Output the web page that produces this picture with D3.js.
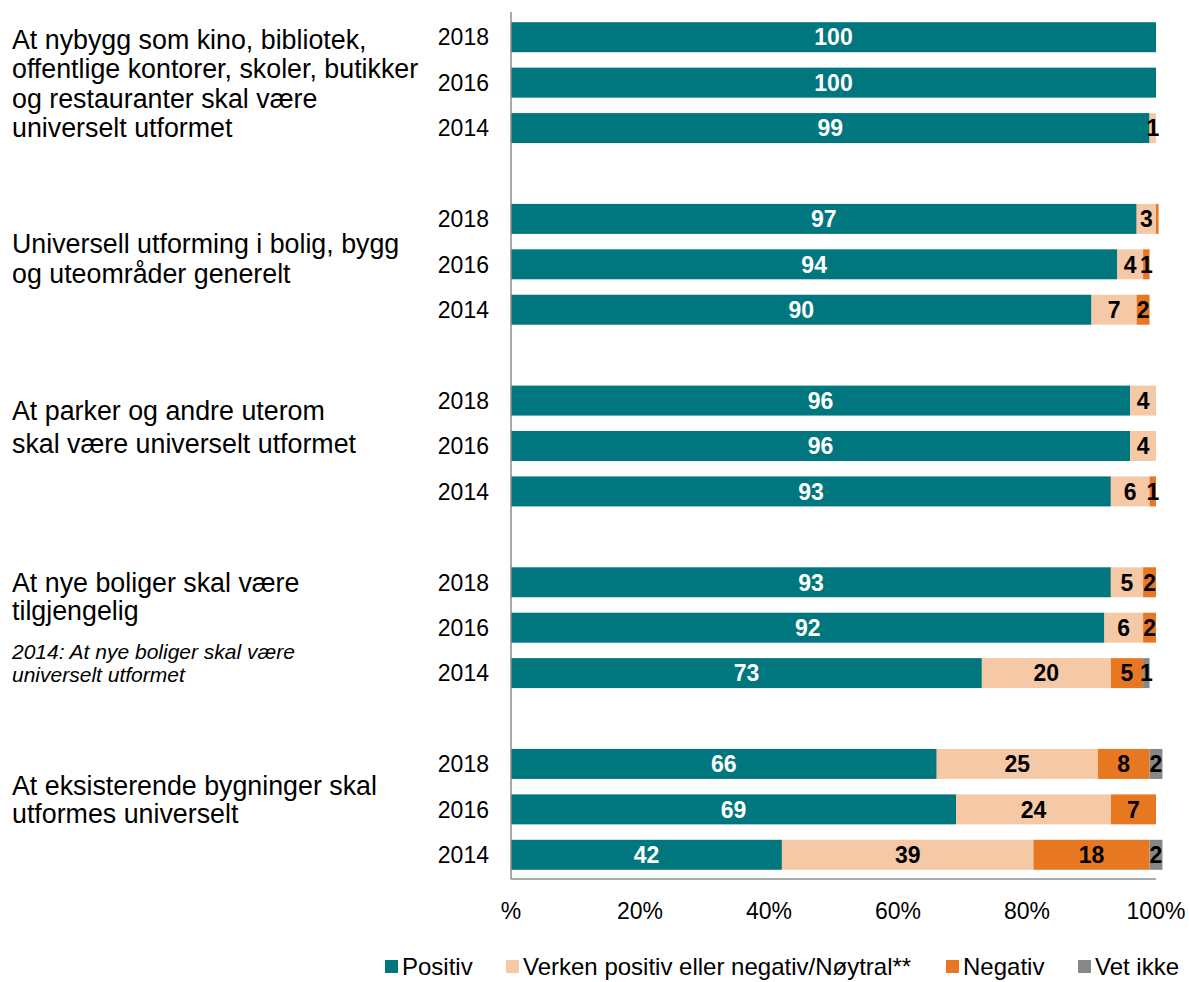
<!DOCTYPE html>
<html>
<head>
<meta charset="utf-8">
<script src="https://cdn.jsdelivr.net/npm/d3@7"></script>
<style>
  html, body { margin: 0; padding: 0; background: #fff; }
  svg { display: block; font-family: "Liberation Sans", Arial, sans-serif; }
</style>
</head>
<body>
<svg id="chart" width="1189" height="982"></svg>
<script>
// ---- data ----
const groups = [
  ["At nybygg som kino, bibliotek,", "offentlige kontorer, skoler, butikker", "og restauranter skal være", "universelt utformet"],
  ["Universell utforming i bolig, bygg", "og uteområder generelt"],
  ["At parker og andre uterom", "skal være universelt utformet"],
  ["At nye boliger skal være", "tilgjengelig"],
  ["At eksisterende bygninger skal", "utformes universelt"]
];
const noteLines = [[], [], [], ["2014: At nye boliger skal være", "universelt utformet"], []];
const years = ["2018", "2016", "2014"];
const positiv  = [100, 100, 99,  97, 94, 90,  96, 96, 93,  93, 92, 73,  66, 69, 42];
const noytral  = [0,   0,   1,   3,  4,  7,   4,  4,  6,   5,  6,  20,  25, 24, 39];
const negativ  = [0,   0,   0,   0.4, 1, 2,   0,  0,  1,   2,  2,  5,   8,  7,  18];
const vetIkke  = [0,   0,   0,   0,  0,  0,   0,  0,  0,   0,  0,  1,   2,  0,  2];
const seriesNames = ["Positiv", "Verken positiv eller negativ/Nøytral**", "Negativ", "Vet ikke"];
const xTicks = [0, 20, 40, 60, 80, 100];
const xTickLabels = ["%", "20%", "40%", "60%", "80%", "100%"];

// ---- layout ----
const colors = ["#00767E", "#F6C9A6", "#E87722", "#878787"];
const labelColors = ["#ffffff", "#000000", "#000000", "#000000"];
const keys = ["pos", "neu", "neg", "vet"];

const rows = [];
groups.forEach((g, gi) => {
  years.forEach((y, yi) => {
    const i = gi * 3 + yi;
    rows.push({ id: `r${gi}_${yi}`, group: gi, year: y,
      pos: positiv[i], neu: noytral[i], neg: negativ[i], vet: vetIkke[i] });
  });
  if (gi < groups.length - 1) rows.push({ id: `gap${gi}`, gap: true });
});

const svg = d3.select("#chart");
const x = d3.scaleLinear().domain([0, 100]).range([511, 1156]);
const y = d3.scaleBand().domain(rows.map(r => r.id)).range([14.5, 877.5]).paddingInner(0.34).paddingOuter(0.17);

const dataRows = rows.filter(r => !r.gap);
const stacked = d3.stack().keys(keys)(dataRows);

// bars
stacked.forEach((layer, li) => {
  svg.append("g").selectAll("rect").data(layer).join("rect")
    .attr("x", d => x(d[0]))
    .attr("y", d => y(d.data.id))
    .attr("width", d => Math.max(0, x(d[1]) - x(d[0])))
    .attr("height", y.bandwidth())
    .attr("fill", colors[li]);
});

// axes lines
svg.append("line").attr("x1", 511).attr("x2", 511).attr("y1", 12).attr("y2", 879)
  .attr("stroke", "#8c8c8c").attr("stroke-width", 1.5);
svg.append("line").attr("x1", 511).attr("x2", x(100)).attr("y1", 879).attr("y2", 879)
  .attr("stroke", "#8c8c8c").attr("stroke-width", 1.5);

// value labels
stacked.forEach((layer, li) => {
  svg.append("g").selectAll("text").data(layer.filter(d => Math.round(d[1] - d[0]) > 0)).join("text")
    .attr("x", d => (x(d[0]) + x(d[1])) / 2)
    .attr("y", d => y(d.data.id) + y.bandwidth() / 2)
    .attr("dy", "0.36em")
    .attr("text-anchor", "middle")
    .attr("font-size", 23)
    .attr("font-weight", "bold")
    .attr("fill", labelColors[li])
    .text(d => Math.round(d[1] - d[0]));
});

// year labels
svg.append("g").selectAll("text").data(dataRows).join("text")
  .attr("x", 489)
  .attr("y", d => y(d.id) + y.bandwidth() / 2)
  .attr("dy", "0.36em")
  .attr("text-anchor", "end")
  .attr("font-size", 23)
  .attr("fill", "#000")
  .text(d => d.year);

// category labels
const firstLineY = [39, 243, 410, 582, 785];
const lineStep = [29.6, 30, 33, 28.5, 28.5];
groups.forEach((lines, gi) => {
  const g = svg.append("g");
  lines.forEach((t, li) => {
    g.append("text").attr("x", 12).attr("y", firstLineY[gi] + li * lineStep[gi])
      .attr("dy", "0.36em").attr("font-size", 26.8).attr("fill", "#000").text(t);
  });
  noteLines[gi].forEach((t, li) => {
    g.append("text").attr("x", 12).attr("y", 651 + li * 23)
      .attr("dy", "0.36em").attr("font-size", 21).attr("font-style", "italic").attr("fill", "#000").text(t);
  });
});

// x tick labels
svg.append("g").selectAll("text").data(xTicks).join("text")
  .attr("x", d => x(d))
  .attr("y", 911)
  .attr("dy", "0.36em")
  .attr("text-anchor", "middle")
  .attr("font-size", 23)
  .attr("fill", "#000")
  .text((d, i) => xTickLabels[i]);

// legend
const legendX = [385, 506, 946, 1078];
const lg = svg.append("g");
seriesNames.forEach((n, i) => {
  lg.append("rect").attr("x", legendX[i]).attr("y", 960).attr("width", 13).attr("height", 13).attr("fill", colors[i]);
  lg.append("text").attr("x", legendX[i] + 17).attr("y", 966).attr("dy", "0.36em")
    .attr("font-size", 24).attr("fill", "#000").text(n);
});
</script>
</body>
</html>
